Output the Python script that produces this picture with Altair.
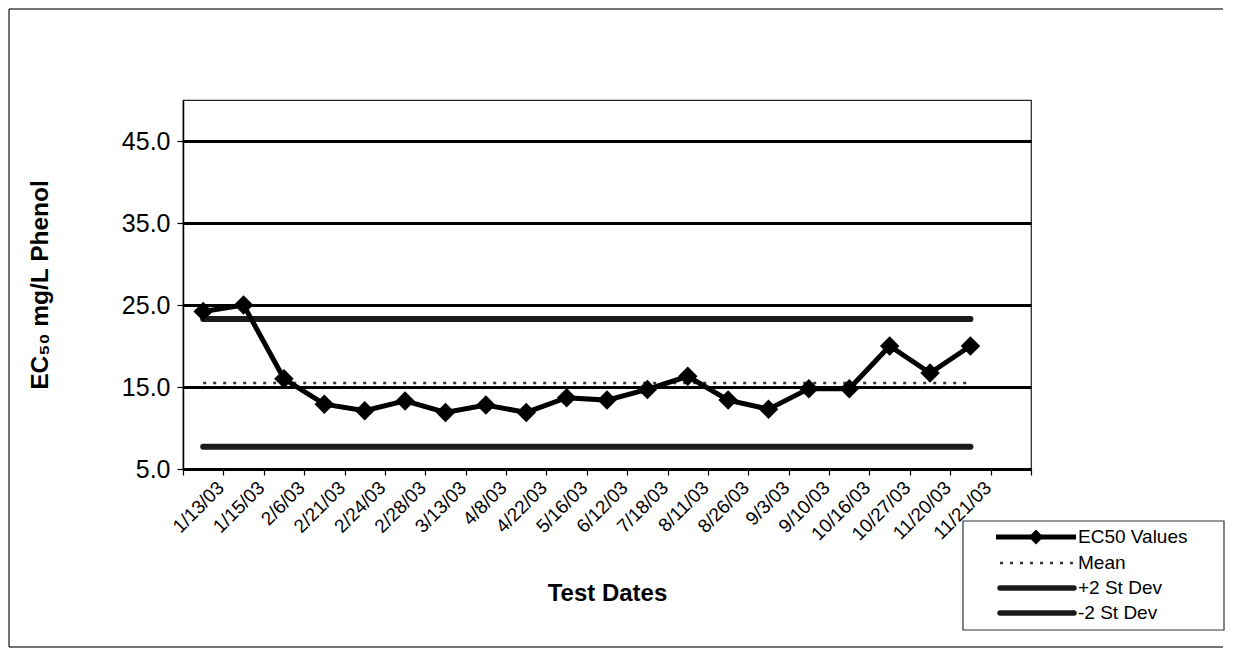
import altair as alt
import pandas as pd

# ---------------- data ----------------
dates = ["1/13/03", "1/15/03", "2/6/03", "2/21/03", "2/24/03", "2/28/03", "3/13/03",
         "4/8/03", "4/22/03", "5/16/03", "6/12/03", "7/18/03", "8/11/03", "8/26/03",
         "9/3/03", "9/10/03", "10/16/03", "10/27/03", "11/20/03", "11/21/03"]
ec50 = [24.2, 25.0, 16.0, 12.9, 12.1, 13.3, 11.9, 12.8, 11.9, 13.7,
        13.4, 14.7, 16.3, 13.4, 12.3, 14.8, 14.8, 20.0, 16.7, 20.0]
mean_value = 15.5
plus_2sd = 23.3
minus_2sd = 7.7
y_ticks = [5, 15, 25, 35, 45]
legend_labels = ["EC50 Values", "Mean", "+2 St Dev", "-2 St Dev"]

x_domain = dates + [" "]   # Excel axis has one empty trailing category

df = pd.DataFrame({
    "date": dates,
    "ec50": ec50,
    "mean": [mean_value] * len(dates),
    "plus": [plus_2sd] * len(dates),
    "minus": [minus_2sd] * len(dates),
})

FONT = "Liberation Sans"
W, H = 848, 369

x_enc = alt.X(
    "date:N",
    title="Test Dates",
    sort=None,
    scale=alt.Scale(type="band", domain=x_domain, paddingInner=0, paddingOuter=0),
    axis=alt.Axis(
        labelAngle=-45, labelAlign="right", labelBaseline="top",
        labelFont=FONT, labelFontSize=19, labelColor="black",
        labelPadding=3, labelOffset=11, labelOverlap=False, labelBound=False,
        tickBand="extent", tickSize=6, tickColor="black", tickWidth=1.2,
        domainColor="black", domainWidth=1.5, grid=False,
        titleFont=FONT, titleFontSize=24, titleFontWeight="bold", titleColor="black",
        titleY=124, titleBaseline="middle",
    ),
)

y_scale = alt.Scale(domain=[5, 50], nice=False, zero=False)
y_axis = alt.Axis(
    values=y_ticks, format=".1f",
    labelFont=FONT, labelFontSize=25, labelColor="black", labelPadding=7,
    tickSize=6, tickColor="black", tickWidth=1.2,
    domainColor="black", domainWidth=1.5,
    grid=True, gridColor="black", gridWidth=3,
    titleFont=FONT, titleFontSize=24.5, titleFontWeight="bold", titleColor="black",
    titleX=-143, titleY=H / 2, titleAngle=-90, titleAlign="center", titleBaseline="middle",
)
Y_TITLE = "EC₅₀ mg/L Phenol"


def y_enc(field):
    return alt.Y(f"{field}:Q", title=Y_TITLE, scale=y_scale, axis=y_axis)


base = alt.Chart(df)

minus_line = base.mark_line(color="#1a1a1a", strokeWidth=6, strokeCap="round").encode(
    x=x_enc, y=y_enc("minus"))
plus_line = base.mark_line(color="#1a1a1a", strokeWidth=6, strokeCap="round").encode(
    x=x_enc, y=y_enc("plus"))
mean_line = base.mark_line(color="#333333", strokeWidth=2.5, strokeDash=[3, 7]).encode(
    x=x_enc, y=y_enc("mean"))
ec_line = base.mark_line(color="black", strokeWidth=5).encode(x=x_enc, y=y_enc("ec50"))
ec_pts = base.mark_point(shape="diamond", filled=True, size=380, color="black", opacity=1).encode(
    x=x_enc, y=y_enc("ec50"))

one = pd.DataFrame({"k": [0]})

# outer chart border (top, left, bottom; the right edge lies outside the picture)
border_color = "#444444"
border = [
    alt.Chart(one).mark_rule(color=border_color, strokeWidth=1.5).encode(
        x=alt.value(-174), x2=alt.value(1040), y=alt.value(-91)),
    alt.Chart(one).mark_rule(color=border_color, strokeWidth=1.5).encode(
        x=alt.value(-174), y=alt.value(-91), y2=alt.value(547)),
    alt.Chart(one).mark_rule(color=border_color, strokeWidth=1.5).encode(
        x=alt.value(-174), x2=alt.value(1040), y=alt.value(547)),
]

# manual legend
legend_layers = [
    alt.Chart(one).mark_rect(fill="white", stroke="#333333", strokeWidth=1.2).encode(
        x=alt.value(780), x2=alt.value(1041), y=alt.value(421), y2=alt.value(530))
]
row_y = [437, 463, 488, 513]
for i, (label, ry) in enumerate(zip(legend_labels, row_y)):
    if i == 1:
        sym = alt.Chart(one).mark_rule(color="#333333", strokeWidth=2.5, strokeDash=[3, 7]).encode(
            x=alt.value(817), x2=alt.value(893), y=alt.value(ry))
    elif i == 0:
        sym = alt.Chart(one).mark_rule(color="black", strokeWidth=5).encode(
            x=alt.value(813), x2=alt.value(893), y=alt.value(ry))
    else:
        sym = alt.Chart(one).mark_rule(color="#1a1a1a", strokeWidth=5.5, strokeCap="round").encode(
            x=alt.value(817), x2=alt.value(891), y=alt.value(ry))
    legend_layers.append(sym)
    if i == 0:
        legend_layers.append(
            alt.Chart(one).mark_point(shape="diamond", filled=True, size=220, color="black", opacity=1).encode(
                x=alt.value(853), y=alt.value(ry)))
    legend_layers.append(
        alt.Chart(pd.DataFrame({"label": [label]})).mark_text(
            font=FONT, fontSize=19, color="black", align="left", baseline="middle").encode(
            x=alt.value(895), y=alt.value(ry), text="label:N"))

chart = alt.layer(
    minus_line, plus_line, mean_line, ec_line, ec_pts, *border, *legend_layers
).properties(
    width=W, height=H,
    autosize=alt.AutoSizeParams(type="none"),
    padding={"left": 175, "top": 92, "right": 195, "bottom": 179},
    background="white",
).configure_view(stroke="#222222", strokeWidth=1.2)

chart.save("out.html", embed_options={"renderer": "svg", "actions": False})
